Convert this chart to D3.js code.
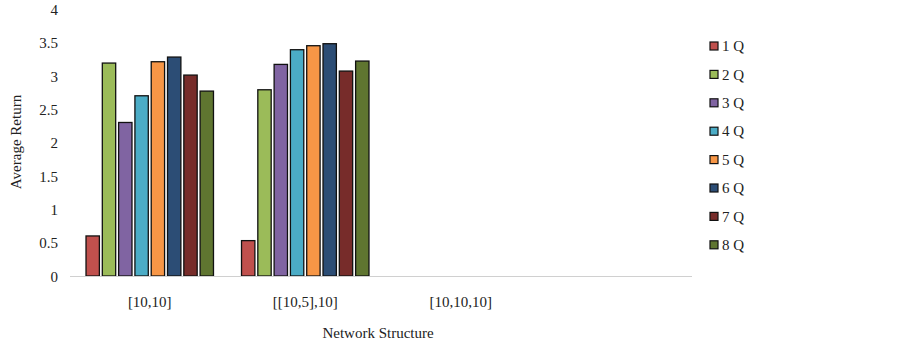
<!DOCTYPE html>
<html>
<head>
<meta charset="utf-8">
<script src="https://cdnjs.cloudflare.com/ajax/libs/d3/7.8.5/d3.min.js"></script>
<style>
  body { margin: 0; background: #fff; }
  text { font-family: "Liberation Serif", "Times New Roman", serif; fill: #222; }
</style>
</head>
<body>
<svg id="chart" width="903" height="343"></svg>
<script>
// categories along x (the last slot has no bars)
const structures = ["[10,10]", "[[10,5],10]", "[10,10,10]", ""];
const seriesNames = ["1 Q", "2 Q", "3 Q", "4 Q", "5 Q", "6 Q", "7 Q", "8 Q"];
const seriesColors = ["#c0504d", "#9bbb59", "#8064a2", "#4bacc6", "#f79646", "#2c4d75", "#772c2a", "#5f7530"];
// average return per structure, one entry per series
const returns10_10 = [0.60, 3.19, 2.30, 2.70, 3.21, 3.28, 3.01, 2.77];
const returns10_5_10 = [0.53, 2.79, 3.17, 3.39, 3.45, 3.48, 3.07, 3.22];
const yTicks = [0, 0.5, 1, 1.5, 2, 2.5, 3, 3.5, 4];

const rows = [
  {cat: structures[0], vals: returns10_10},
  {cat: structures[1], vals: returns10_5_10}
];

const svg = d3.select("#chart");
const plotLeft = 70, plotRight = 692, plotTop = 9, plotBottom = 276;

const x = d3.scaleBand().domain(structures).range([plotLeft + 2, plotRight + 2]).paddingInner(0).paddingOuter(0);
const xInner = d3.scaleBand().domain(seriesNames).range([0, x.bandwidth()]).paddingInner(0.18).paddingOuter(0.86);
const y = d3.scaleLinear().domain([0, 4]).range([plotBottom, plotTop]);

// y tick labels
const yAxis = d3.axisLeft(y).tickValues(yTicks).tickSize(0).tickPadding(0)
  .tickFormat(d => d3.format("")(d));
const gy = svg.append("g").attr("transform", "translate(" + (plotLeft - 12) + ",0)").call(yAxis);
gy.select(".domain").remove();
gy.attr("font-family", null);
gy.selectAll("text").style("font-size", "15px").attr("dy", "0.35em");

// bars
const groups = svg.selectAll(".grp").data(rows).enter().append("g")
  .attr("class", "grp")
  .attr("transform", d => "translate(" + x(d.cat) + ",0)");
groups.selectAll("rect")
  .data(d => d.vals.map((v, i) => ({name: seriesNames[i], v: v, c: seriesColors[i]})))
  .enter().append("rect")
  .attr("x", d => xInner(d.name))
  .attr("width", xInner.bandwidth())
  .attr("y", d => y(d.v))
  .attr("height", d => y(0) - y(d.v))
  .attr("fill", d => d.c)
  .attr("stroke", "#111")
  .attr("stroke-width", 1.3);

// x axis
const xAxis = d3.axisBottom(x).tickSize(0).tickPadding(0);
const gx = svg.append("g").attr("transform", "translate(0," + plotBottom + ")").call(xAxis);
gx.select(".domain").remove();
gx.attr("font-family", null);
gx.selectAll("text").style("font-size", "15px").attr("dy", "2.05em");
svg.append("line").attr("x1", plotLeft).attr("x2", plotRight).attr("y1", plotBottom + 0.5).attr("y2", plotBottom + 0.5)
  .attr("stroke", "#d0d0d0").attr("stroke-width", 1.2);

// axis titles
svg.append("text").attr("x", 378).attr("y", 338).attr("text-anchor", "middle")
  .style("font-size", "15px").text("Network Structure");
svg.append("text").attr("transform", "translate(21,142) rotate(-90)").attr("text-anchor", "middle")
  .style("font-size", "15px").text("Average Return");

// legend
const legend = svg.append("g").attr("transform", "translate(710,46)");
const lg = legend.selectAll("g").data(seriesNames).enter().append("g")
  .attr("transform", (d, i) => "translate(0," + (i * 28.4) + ")");
lg.append("rect").attr("x", 0).attr("y", -4).attr("width", 8).attr("height", 8)
  .attr("fill", (d, i) => seriesColors[i]).attr("stroke", "#111").attr("stroke-width", 1.2);
lg.append("text").attr("x", 12).attr("y", 0).attr("dy", "0.35em")
  .style("font-size", "15px").text(d => d);
</script>
</body>
</html>
